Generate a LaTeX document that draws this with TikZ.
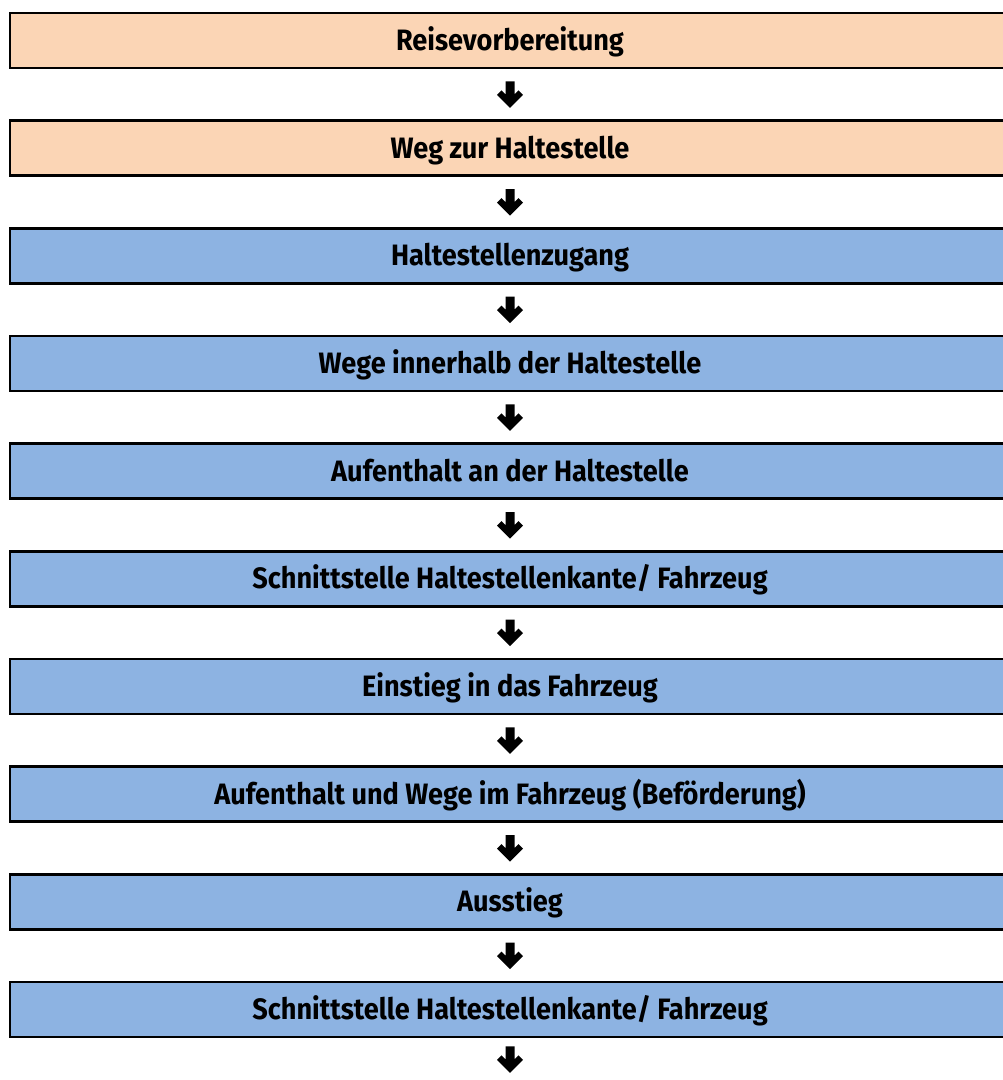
\documentclass[tikz,border=0pt]{standalone}
\usepackage{fontspec}
\setmainfont{Fira Sans}[FakeStretch=0.92]
\usetikzlibrary{calc}
\definecolor{peach}{HTML}{FBD5B5}
\definecolor{bluebox}{HTML}{8DB3E2}
\tikzset{
  box/.style={draw=black, line width=2.6pt, minimum width=1000pt, minimum height=55pt,
    inner sep=0pt, text height=20pt, text depth=0pt, font=\bfseries\fontsize{29.5}{32}\selectfont},
  orangebox/.style={box, fill=peach},
  bluestep/.style={box, fill=bluebox},
  downarrow/.pic={\fill[black] (-4.5,-13) -- (4.5,-13) -- (4.5,0) -- (8.5,-4) -- (13,0.5) -- (0,13.5) -- (-13,0.5) -- (-8.5,-4) -- (-4.5,0) -- cycle;}
}
\begin{document}
\begin{tikzpicture}[x=1pt,y=-1pt]
\useasboundingbox (0,0) rectangle (1003,1080);
\clip (0,0) rectangle (1003,1080);
\fill[white] (0,0) rectangle (1003,1080);
\node[orangebox] (b1) at (510,40.5) {Reisevorbereitung};
\node[orangebox] (b2) at (510,148.2) {Weg zur Haltestelle};
\node[bluestep] (b3) at (510,255.8) {Haltestellenzugang};
\node[bluestep] (b4) at (510,363.5) {Wege innerhalb der Haltestelle};
\node[bluestep] (b5) at (510,471.2) {Aufenthalt an der Haltestelle};
\node[bluestep] (b6) at (510,578.9) {Schnittstelle Haltestellenkante/ Fahrzeug};
\node[bluestep] (b7) at (510,686.5) {Einstieg in das Fahrzeug};
\node[bluestep] (b8) at (510,794.2) {Aufenthalt und Wege im Fahrzeug (Beförderung)};
\node[bluestep] (b9) at (510,901.9) {Ausstieg};
\node[bluestep] (b10) at (510,1009.5) {Schnittstelle Haltestellenkante/ Fahrzeug};
\foreach \a/\b in {b1/b2,b2/b3,b3/b4,b4/b5,b5/b6,b6/b7,b7/b8,b8/b9,b9/b10}{
  \pic at ($(\a.south)!0.5!(\b.north)$) {downarrow};
}
\pic at ([yshift=-21pt]b10.south) {downarrow};
\end{tikzpicture}
\end{document}
